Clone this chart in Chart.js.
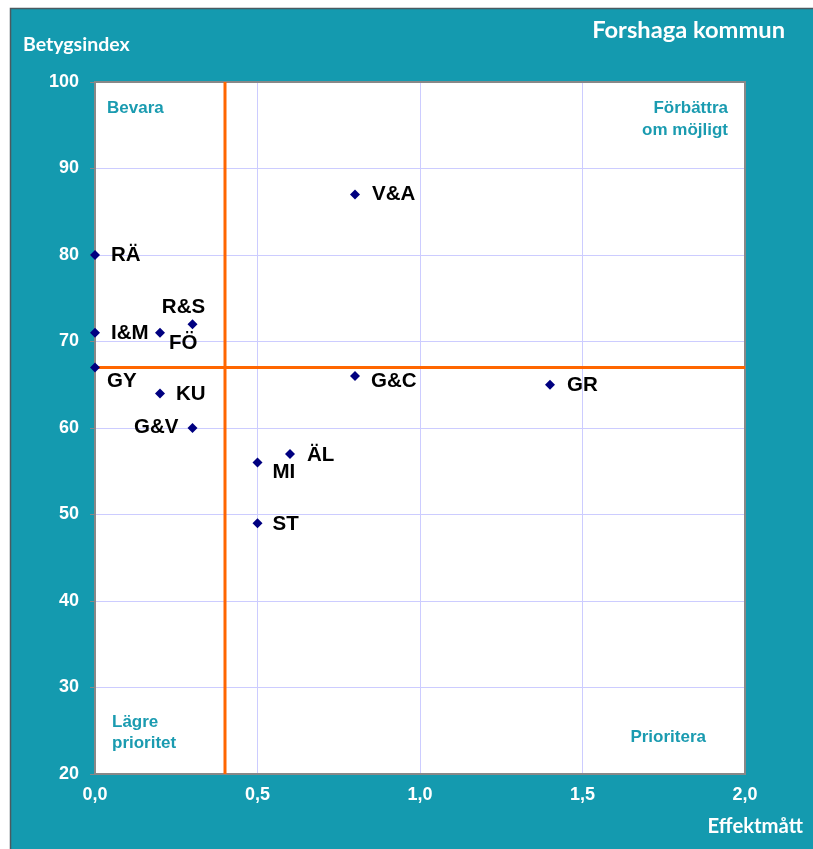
<!DOCTYPE html>
<html>
<head>
<meta charset="utf-8">
<script src="https://cdn.jsdelivr.net/npm/chart.js@4"></script>
<style>
  html, body { margin: 0; padding: 0; background: #fff; }
  #wrap { width: 813px; height: 849px; }
</style>
</head>
<body>
<div id="wrap"><canvas id="chart" width="813" height="849"></canvas></div>
<script>
// data
var areas = ['V&A', 'RÄ', 'R&S', 'I&M', 'FÖ', 'GY', 'KU', 'G&V', 'G&C', 'GR', 'ÄL', 'MI', 'ST'];
var effekt = [0.8, 0.0, 0.3, 0.0, 0.2, 0.0, 0.2, 0.3, 0.8, 1.4, 0.6, 0.5, 0.5];
var betyg = [87, 80, 72, 71, 71, 67, 64, 60, 66, 65, 57, 56, 49];
var xTickLabels = ['0,0', '0,5', '1,0', '1,5', '2,0'];
var xLimit = 0.4;   // vertical orange line
var yLimit = 67;    // horizontal orange line

// label placement per point: [dx, dy, align]
var labelPos = [
  [17, 0, 'left'], [16, 0, 'left'], [-9, -17, 'center'], [16, 0, 'left'],
  [9, 10, 'left'], [12, 14, 'left'], [16, 1, 'left'], [-14, -1, 'right'],
  [16, 5, 'left'], [17, 1, 'left'], [17, 1, 'left'], [15, 10, 'left'], [15, 1, 'left']
];

var teal = '#149AAF';
var pts = [];
for (var i = 0; i < areas.length; i++) {
  pts.push({ x: effekt[i], y: betyg[i] });
}

var framePlugin = {
  id: 'frame',
  beforeDraw: function(chart) {
    var ctx = chart.ctx, a = chart.chartArea;
    ctx.save();
    ctx.fillStyle = '#fff';
    ctx.fillRect(0, 0, chart.width, chart.height);
    ctx.fillStyle = teal;
    ctx.fillRect(10, 8, chart.width - 10, chart.height - 8);
    ctx.strokeStyle = '#4a5a60';
    ctx.lineWidth = 1.5;
    ctx.beginPath();
    ctx.moveTo(10.5, chart.height);
    ctx.lineTo(10.5, 8.5);
    ctx.lineTo(chart.width, 8.5);
    ctx.stroke();
    ctx.fillStyle = '#fff';
    ctx.fillRect(a.left, a.top, a.right - a.left, a.bottom - a.top);
    ctx.restore();
  },
  beforeDatasetsDraw: function(chart) {
    var ctx = chart.ctx, a = chart.chartArea;
    ctx.save();
    ctx.strokeStyle = '#888';
    ctx.lineWidth = 2;
    ctx.strokeRect(a.left, a.top, a.right - a.left, a.bottom - a.top);
    ctx.restore();
  },
  afterDraw: function(chart) {
    var ctx = chart.ctx;
    ctx.save();
    ctx.fillStyle = '#fff';
    ctx.textBaseline = 'alphabetic';
    ctx.font = 'bold 19.5px Lato';
    ctx.textAlign = 'left';
    ctx.fillText('Betygsindex', 23, 51);
    ctx.textAlign = 'right';
    ctx.font = 'bold 20.3px Lato';
    ctx.fillText('Effektmått', 803, 833);
    ctx.font = 'bold 23.7px Lato';
    ctx.fillText('Forshaga kommun', 785, 38);

    // quadrant captions
    ctx.fillStyle = '#1A9BB0';
    ctx.font = 'bold 17px "Liberation Sans", Arial';
    ctx.textBaseline = 'middle';
    ctx.textAlign = 'left';
    ctx.fillText('Bevara', 107, 108);
    ctx.fillText('Lägre', 112, 722);
    ctx.fillText('prioritet', 112, 743);
    ctx.textAlign = 'right';
    ctx.fillText('Förbättra', 728, 108);
    ctx.fillText('om möjligt', 728, 130);
    ctx.fillText('Prioritera', 706, 737);

    // point labels
    var meta = chart.getDatasetMeta(0);
    ctx.fillStyle = '#000';
    ctx.font = 'bold 20.5px "Liberation Sans", Arial';
    meta.data.forEach(function(el, i) {
      var p = labelPos[i];
      ctx.textAlign = p[2];
      ctx.fillText(areas[i], el.x + p[0], el.y + p[1]);
    });
    ctx.restore();
  }
};

new Chart(document.getElementById('chart'), {
  type: 'scatter',
  data: {
    datasets: [
      {
        label: 'Områden',
        data: pts,
        pointStyle: 'rectRot',
        pointRadius: 5,
        backgroundColor: '#000080',
        borderColor: '#000080',
        borderWidth: 0,
        clip: false,
        order: 0
      },
      {
        label: 'xgräns',
        data: [{ x: xLimit, y: 20 }, { x: xLimit, y: 100 }],
        showLine: true,
        borderColor: '#FF6600',
        borderWidth: 3,
        pointRadius: 0,
        order: 1
      },
      {
        label: 'ygräns',
        data: [{ x: 0, y: yLimit }, { x: 2, y: yLimit }],
        showLine: true,
        borderColor: '#FF6600',
        borderWidth: 3,
        pointRadius: 0,
        order: 1
      }
    ]
  },
  options: {
    responsive: false,
    animation: false,
    layout: { padding: { left: 10, right: 68, top: 82, bottom: 35 } },
    plugins: {
      legend: { display: false },
      tooltip: { enabled: false }
    },
    scales: {
      x: {
        type: 'linear',
        min: 0,
        max: 2,
        afterFit: function(s) { s.height = 40; },
        ticks: {
          stepSize: 0.5,
          color: '#fff',
          padding: 10,
          maxRotation: 0,
          font: { family: '"Liberation Sans", Arial', size: 18, weight: 'bold' },
          callback: function(v, i) { return xTickLabels[i]; }
        },
        grid: { color: '#CCCCFF', lineWidth: 1, drawTicks: false },
        border: { display: false }
      },
      y: {
        min: 20,
        max: 100,
        afterFit: function(s) { s.width = 85; },
        ticks: {
          stepSize: 10,
          color: '#fff',
          padding: 11,
          font: { family: '"Liberation Sans", Arial', size: 18, weight: 'bold' }
        },
        grid: { color: '#CCCCFF', lineWidth: 1, tickLength: 5, tickColor: '#888' },
        border: { display: false }
      }
    }
  },
  plugins: [framePlugin]
});
</script>
</body>
</html>
